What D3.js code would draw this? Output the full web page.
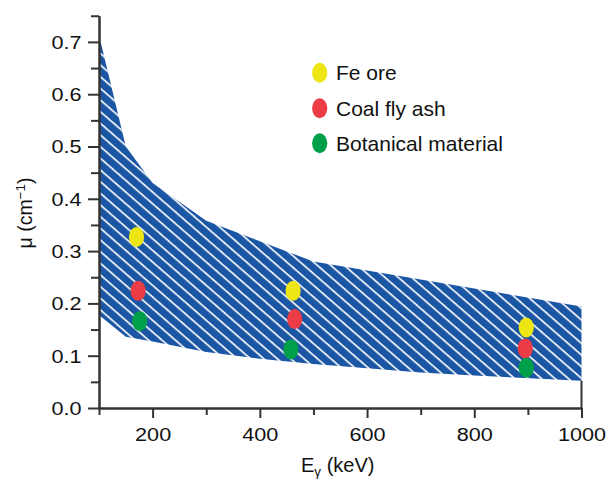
<!DOCTYPE html>
<html>
<head>
<meta charset="utf-8">
<script src="https://cdn.jsdelivr.net/npm/d3@7"></script>
<style>
  html, body { margin: 0; padding: 0; background: #fff; }
  svg { display: block; font-family: "Liberation Sans", Arial, Helvetica, sans-serif; }
</style>
</head>
<body>
<svg id="chart" width="607" height="480"></svg>
<script>
// Upper and lower limits of the attenuation band: [energy keV, mu cm^-1]
const bandUpper = [[100, 0.713], [150, 0.50], [200, 0.43], [300, 0.358], [500, 0.28], [1000, 0.194]];
const bandLower = [[100, 0.178], [150, 0.136], [200, 0.127], [300, 0.107], [400, 0.094], [500, 0.084],
                   [600, 0.076], [700, 0.068], [800, 0.062], [1000, 0.052]];

// Measured samples
const seriesNames = ["Fe ore", "Coal fly ash", "Botanical material"];
const seriesColors = ["#ede614", "#ec3c46", "#00a04b"];
const feOre = [[170, 0.327], [462, 0.224], [897, 0.154]];
const coalFlyAsh = [[173, 0.224], [465, 0.170], [895, 0.114]];
const botanical = [[176, 0.166], [458, 0.112], [897, 0.077]];
const seriesData = [feOre, coalFlyAsh, botanical];

// Axis ticks
const xMajorTicks = [200, 400, 600, 800, 1000];
const xMinorTicks = [100, 300, 500, 700, 900];
const yMajorTicks = [0, 0.1, 0.2, 0.3, 0.4, 0.5, 0.6, 0.7];
const yMinorTicks = [0.05, 0.15, 0.25, 0.35, 0.45, 0.55, 0.65, 0.75];

const svg = d3.select("#chart");
const axisColor = "#333";
const bandBlue = "#1b56a4";

const x = d3.scaleLinear().domain([100, 1000]).range([99, 581.5]);
const y = d3.scaleLinear().domain([0, 0.75]).range([408, 15.75]);

// Diagonal white hatching on blue
const defs = svg.append("defs");
const pat = defs.append("pattern")
  .attr("id", "hatch")
  .attr("patternUnits", "userSpaceOnUse")
  .attr("width", 10)
  .attr("height", 8.8)
  .attr("patternTransform", "rotate(41)");
pat.append("rect").attr("width", 10).attr("height", 8.8).attr("fill", bandBlue);
pat.append("rect").attr("y", 0).attr("width", 10).attr("height", 1.6).attr("fill", "#fff");

const outline = bandUpper.concat(bandLower.slice().reverse());
const bandLine = d3.line().x(d => x(d[0])).y(d => y(d[1]));
svg.append("path")
  .attr("d", bandLine(outline) + "Z")
  .attr("fill", "url(#hatch)");

// Right-hand marker at 1000 keV below the band
svg.append("line")
  .attr("x1", x(1000)).attr("x2", x(1000))
  .attr("y1", y(0)).attr("y2", y(0.052))
  .attr("stroke", axisColor).attr("stroke-width", 2);

// Data points
seriesData.forEach((pts, i) => {
  svg.append("g").selectAll("ellipse")
    .data(pts)
    .join("ellipse")
    .attr("cx", d => x(d[0]))
    .attr("cy", d => y(d[1]))
    .attr("rx", 7.6)
    .attr("ry", 10)
    .attr("fill", seriesColors[i]);
});

// Axes
const tickFont = 18.5, stretch = 1.17;

function styleAxis(g) {
  g.select(".domain").attr("stroke", axisColor).attr("stroke-width", 2);
  g.selectAll(".tick line").attr("stroke", axisColor).attr("stroke-width", 2);
}

const gxMinor = svg.append("g").attr("transform", `translate(0,${y(0)})`)
  .call(d3.axisBottom(x).tickValues(xMinorTicks).tickSize(7).tickSizeOuter(0).tickFormat(""));
styleAxis(gxMinor);
const gx = svg.append("g").attr("transform", `translate(0,${y(0)})`)
  .call(d3.axisBottom(x).tickValues(xMajorTicks).tickSize(10).tickSizeOuter(0).tickFormat(d3.format("d")));
styleAxis(gx);
gx.selectAll(".tick text")
  .attr("fill", "#111")
  .attr("font-size", tickFont)
  .attr("y", 33.5).attr("dy", 0)
  .attr("x", 0)
  .attr("transform", `scale(${stretch},1)`);

const gyMinor = svg.append("g").attr("transform", `translate(${x(100)},0)`)
  .call(d3.axisLeft(y).tickValues(yMinorTicks).tickSize(8).tickSizeOuter(0).tickFormat(""));
styleAxis(gyMinor);
const gy = svg.append("g").attr("transform", `translate(${x(100)},0)`)
  .call(d3.axisLeft(y).tickValues(yMajorTicks).tickSize(11).tickSizeOuter(0).tickFormat(d3.format(".1f")));
styleAxis(gy);
gy.selectAll(".tick text")
  .attr("fill", "#111")
  .attr("font-size", tickFont)
  .attr("x", -17.5 / stretch)
  .attr("dy", "0.35em")
  .attr("transform", `scale(${stretch},1)`);

// Axis titles
const xt = svg.append("text")
  .attr("x", 301).attr("y", 471.5)
  .attr("font-size", 20).attr("fill", "#111");
xt.append("tspan").text("E");
xt.append("tspan").attr("font-size", 13.5).attr("dy", 4).text("γ");
xt.append("tspan").attr("dy", -4).text(" (keV)");

const yt = svg.append("text")
  .attr("transform", "translate(32,213) rotate(-90)")
  .attr("text-anchor", "middle")
  .attr("font-size", 19.5).attr("fill", "#111");
yt.append("tspan").text("μ (cm");
yt.append("tspan").attr("font-size", 13.5).attr("dy", -7).text("−1");
yt.append("tspan").attr("dy", 7).text(")");

// Legend
const legendY = [72.7, 108.3, 143.3];
const legend = svg.append("g");
seriesNames.forEach((name, i) => {
  legend.append("ellipse")
    .attr("cx", 319.7).attr("cy", legendY[i])
    .attr("rx", 7.6).attr("ry", 10)
    .attr("fill", seriesColors[i]);
  legend.append("text")
    .attr("x", 336).attr("y", legendY[i] + 7.4)
    .attr("font-size", 21).attr("fill", "#111")
    .text(name);
});
</script>
</body>
</html>
